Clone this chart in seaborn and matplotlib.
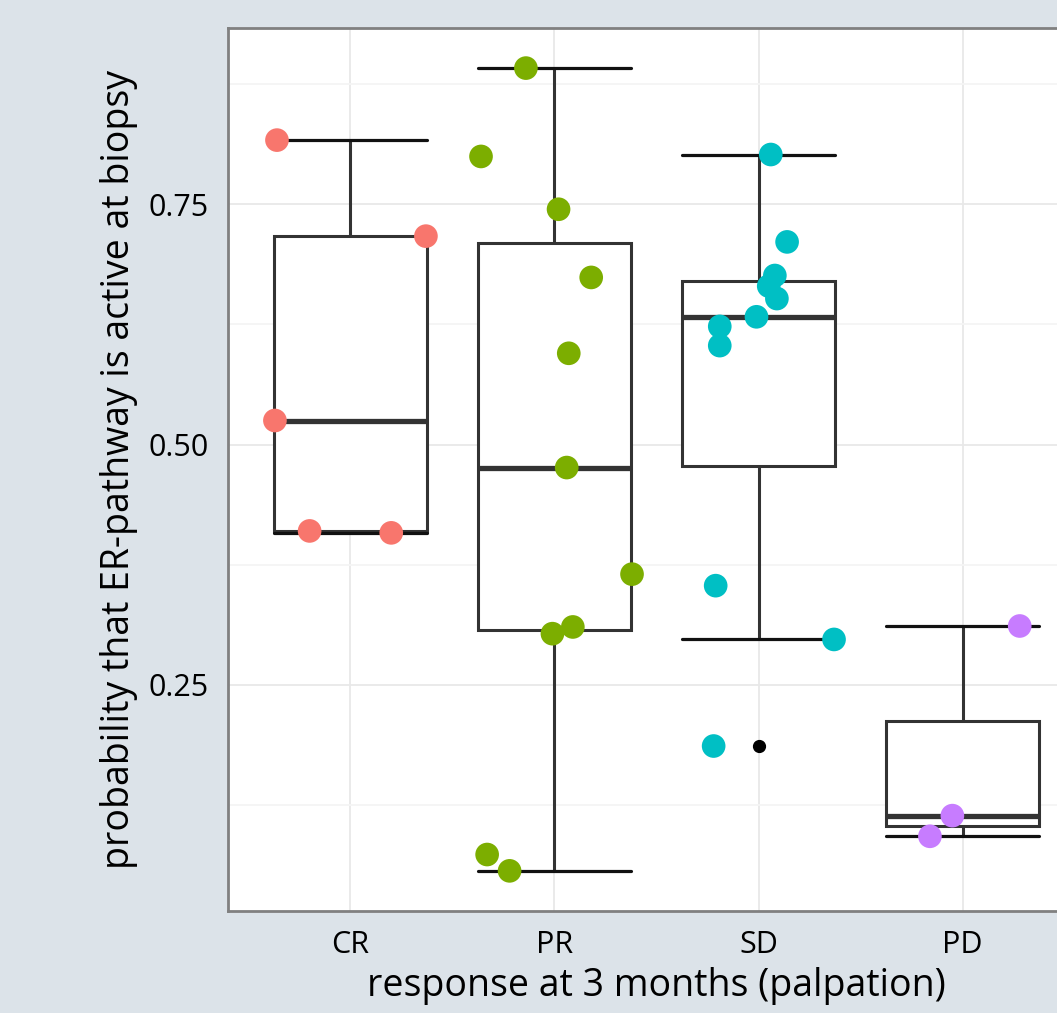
import numpy as np
import pandas as pd
import matplotlib
matplotlib.use("Agg")
import matplotlib.pyplot as plt
import seaborn as sns

# --- data ---
responses = ["CR", "PR", "SD", "PD"]
cr_prob = [0.817, 0.717, 0.525, 0.410, 0.408]
pr_prob = [0.892, 0.800, 0.745, 0.674, 0.595, 0.476, 0.365, 0.310, 0.303, 0.073, 0.056]
sd_prob = [0.802, 0.711, 0.676, 0.665, 0.652, 0.633, 0.623, 0.603, 0.353, 0.297, 0.186]
pd_prob = [0.311, 0.1135, 0.092]

# horizontal jitter of each point (category units), as seen in the picture
cr_jitter = [-0.36, 0.37, -0.37, -0.20, 0.20]
pr_jitter = [-0.14, -0.36, 0.02, 0.18, 0.07, 0.06, 0.38, 0.09, -0.01, -0.33, -0.22]
sd_jitter = [0.06, 0.14, 0.08, 0.05, 0.09, -0.01, -0.19, -0.19, -0.21, 0.37, -0.22]
pd_jitter = [0.28, -0.05, -0.16]

palette = ["#F8766D", "#7CAE00", "#00BFC4", "#C77CFF"]

# --- long table ---
probs = [cr_prob, pr_prob, sd_prob, pd_prob]
jitters = [cr_jitter, pr_jitter, sd_jitter, pd_jitter]
df = pd.DataFrame({
    "response": np.repeat(responses, [len(p) for p in probs]),
    "prob": np.concatenate(probs),
    "jitter": np.concatenate(jitters),
})
df["xpos"] = df["response"].map({r: i for i, r in enumerate(responses)}) + df["jitter"]

sns.set_theme(style="white")
plt.rcParams["font.family"] = ["Open Sans", "DejaVu Sans"]

fig = plt.figure(figsize=(10.57, 10.13), dpi=100, facecolor="#dce3e9")
ax = fig.add_axes([0.2157, 0.1007, 0.8108, 0.8717])

sns.boxplot(
    data=df, x="response", y="prob", order=responses,
    width=0.75, color="white", linecolor="#333333", linewidth=2.2,
    capwidths=0.75,
    medianprops={"linewidth": 3.8, "color": "#333333"},
    capprops={"linewidth": 2.3, "color": "#111111"},
    flierprops={"marker": "o", "markerfacecolor": "black",
                "markeredgecolor": "black", "markersize": 8.5},
    ax=ax,
)

sns.scatterplot(
    data=df, x="xpos", y="prob", hue="response", hue_order=responses,
    palette=palette, s=290, linewidth=0, legend=False, zorder=4, ax=ax,
)

# ggplot-like expansion of the scales
ymin, ymax = df["prob"].min(), df["prob"].max()
pad = 0.05 * (ymax - ymin)
ax.set_ylim(ymin - pad, ymax + pad)
ax.set_xlim(-0.6, len(responses) - 0.4)

ax.set_xticks(range(len(responses)))
ax.set_xticklabels(responses)
ax.set_yticks([0.25, 0.50, 0.75])
ax.set_yticklabels(["0.25", "0.50", "0.75"])
ax.set_yticks([0.125, 0.375, 0.625, 0.875], minor=True)

ax.set_axisbelow(True)
ax.grid(True, which="major", color="#e8e8e8", linewidth=1.3)
ax.grid(True, which="minor", axis="y", color="#f4f4f4", linewidth=1.3)
ax.tick_params(axis="both", which="major", length=7.5, width=1.6, color="#333333",
               labelsize=22, labelcolor="black", pad=6, direction="out")
ax.tick_params(axis="y", which="minor", length=0)

for s in ax.spines.values():
    s.set_color("#808080")
    s.set_linewidth(2)

ax.set_xlabel("response at 3 months (palpation)", fontsize=27, color="black", labelpad=5)
ax.set_ylabel("probability that ER-pathway is active at biopsy", fontsize=27,
              color="black", labelpad=8)

fig.savefig("out.png", dpi=100, facecolor=fig.get_facecolor())
